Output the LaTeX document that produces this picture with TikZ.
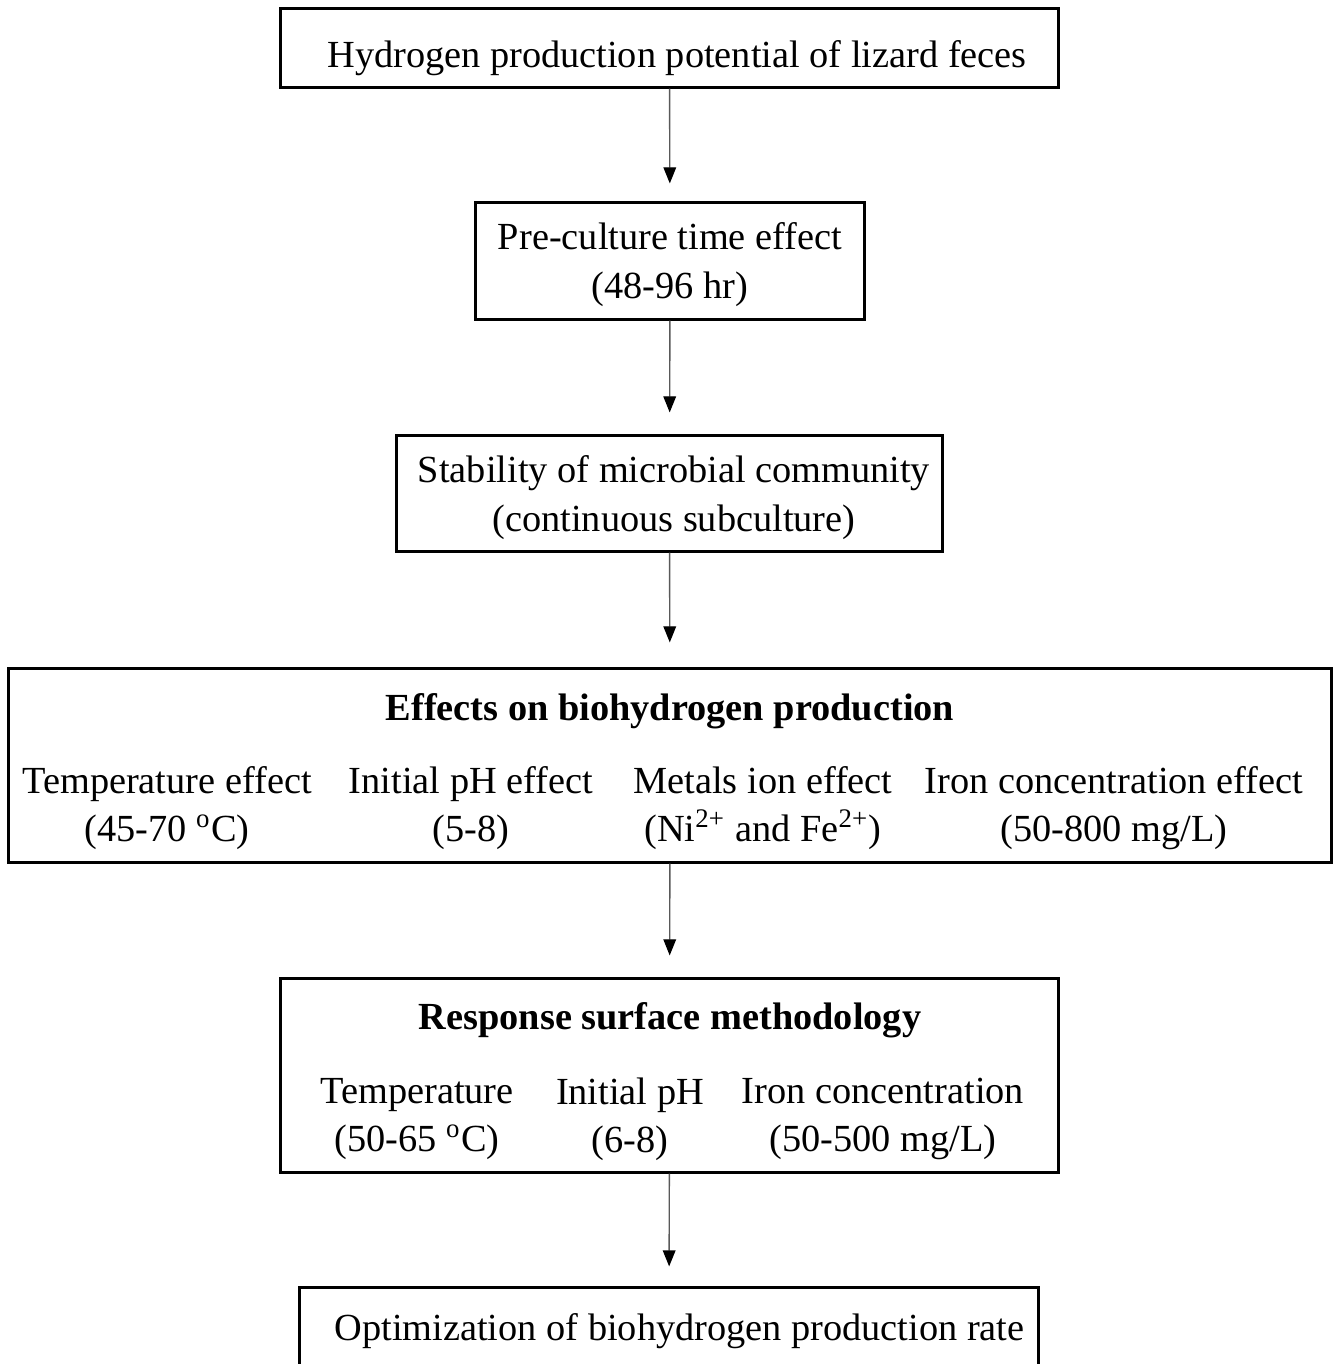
\documentclass[tikz,border=0pt]{standalone}
\usepackage{fontspec}
\setmainfont{Liberation Serif}
\usetikzlibrary{arrows.meta}

\begin{document}
\begin{tikzpicture}[x=0.01cm,y=-0.01cm,>={Triangle[length=4.6pt,width=3.6pt,color=black]},font=\fontsize{10.9}{13.7}\selectfont]
        \tikzset{box/.style={draw, line width=0.85pt, inner sep=0pt},
                 item/.style={align=center, inner sep=0pt},
                 head/.style={item, font=\fontsize{10.9}{13.7}\selectfont\bfseries},
                 flow/.style={->, black!65, line width=0.4pt, shorten >=0.22cm}}
        \useasboundingbox (0,0) rectangle (1333,1364);
        % boxes
        \node[box, minimum width=7.77cm, minimum height=0.78cm] (pot) at (669.5,48) {};
        \node[box, minimum width=3.88cm, minimum height=1.16cm] (pre) at (670,261) {};
        \node[box, minimum width=5.45cm, minimum height=1.15cm] (stab) at (669.5,493.5) {};
        \node[box, minimum width=13.22cm, minimum height=1.93cm] (eff) at (670,765.5) {};
        \node[box, minimum width=7.77cm, minimum height=1.93cm] (rsm) at (669.5,1075.5) {};
        \node[box, minimum width=7.38cm, minimum height=0.90cm] (opt) at (669,1333) {};
        % texts
        \node[item] (pott) at (677,58) {Hydrogen production potential of lizard feces};
        \node[item] (pret) at (670,264.5) {Pre-culture time effect\\(48-96 hr)};
        \node[item] (stabt) at (674,497.5) {Stability of microbial community\\(continuous subculture)};
        \node[head] (efft) at (670,711) {Effects on biohydrogen production};
        \node[item] (e1) at (167,808) {Temperature effect\\(45-70 \textsuperscript{o}C)};
        \node[item] (e2) at (471,808) {Initial pH effect\\(5-8)};
        \node[item] (e3) at (763,808) {Metals ion effect\\(Ni\textsuperscript{2+} and Fe\textsuperscript{2+})};
        \node[item] (e4) at (1114,808) {Iron concentration effect\\(50-800 mg/L)};
        \node[head] (rsmt) at (670,1020) {Response surface methodology};
        \node[item] (r1) at (417,1119) {Temperature\\(50-65 \textsuperscript{o}C)};
        \node[item] (r2) at (630,1119) {Initial pH\\(6-8)};
        \node[item] (r3) at (883,1119) {Iron concentration\\(50-500 mg/L)};
        \node[item] (optt) at (679.5,1331) {Optimization of biohydrogen production rate};
        % arrows
        \draw[flow, shorten >=0.18cm] (pot) -- (pre);
        \draw[flow] (pre) -- (stab);
        \draw[flow, shorten >=0.25cm] (stab) -- (eff);
        \draw[flow] (eff) -- (rsm);
        \draw[flow, shorten >=0.2cm] (rsm) -- (opt);
\end{tikzpicture}
\end{document}
